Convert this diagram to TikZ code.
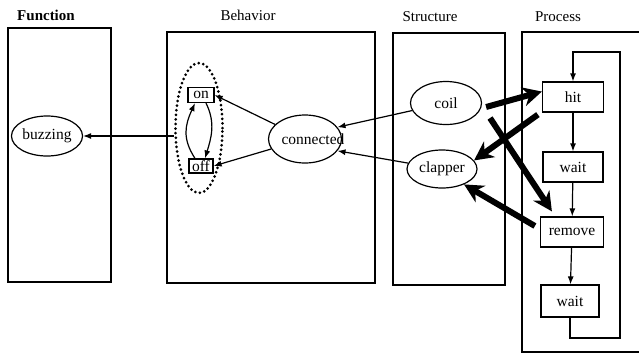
\documentclass[tikz,border=0pt]{standalone}
\usepackage{fontspec}
\setmainfont{Liberation Serif}
\usetikzlibrary{shapes.geometric,arrows.meta}
\begin{document}
\begin{tikzpicture}[x=1pt,y=-1pt,
  panel/.style={draw,line width=1.4pt},
  title/.style={font=\fontsize{15}{18}\selectfont},
  ell/.style={draw,ellipse,line width=1.2pt,inner sep=0pt,font=\fontsize{15.5}{18}\selectfont},
  stepbox/.style={draw,rectangle,line width=1.2pt,inner sep=0pt,font=\fontsize{15.5}{18}\selectfont},
  thin/.style={line width=1.2pt,-{Latex[length=8pt,width=6pt]}},
  heavy/.style={line width=6pt,-{Stealth[length=19pt,width=19pt,inset=6pt]}},
  dots/.style={draw,ellipse,line width=3pt,dash pattern=on 0pt off 4.6pt,line cap=round}]
\useasboundingbox (0,0) rectangle (639,354);

% panels
\draw[panel] (8,28) rectangle (111,282);
\draw[panel] (167,32) rectangle (375,283);
\draw[panel] (393,33) rectangle (505,285);
\draw[panel] (641,32) -- (522,32) -- (522,352) -- (641,352);

% panel titles
\node[title,font=\bfseries\fontsize{15}{18}\selectfont] (tfun) at (46,15) {Function};
\node[title] (tbeh) at (248,15) {Behavior};
\node[title] (tstr) at (430,17) {Structure};
\node[title] (tpro) at (558,17) {Process};

% function
\node[ell,minimum width=71pt,minimum height=40pt] (buzz) at (47,136) {buzzing};

% behavior
\node[dots,minimum width=47pt,minimum height=130pt] (dot) at (199,128) {};
\node[stepbox,minimum width=26pt,minimum height=15pt] (on) at (201,95) {on};
\node[stepbox,minimum width=24pt,minimum height=14pt] (off) at (201,166) {off};
\node[ell,minimum width=73pt,minimum height=48pt] (conn) at (305,139) {};
\node[font=\fontsize{15.5}{18}\selectfont,inner sep=0pt] (conntext) at (313,139) {connected};

% structure
\node[ell,minimum width=71pt,minimum height=43pt] (coil) at (446,103) {coil};
\node[ell,minimum width=70pt,minimum height=38pt] (clap) at (442,169) {clapper};

% process
\node[stepbox,minimum width=61pt,minimum height=30pt] (hit) at (573,97) {hit};
\node[stepbox,minimum width=60pt,minimum height=30pt] (wa) at (573,167) {wait};
\node[stepbox,minimum width=63pt,minimum height=30pt] (rem) at (572,232) {remove};
\node[stepbox,minimum width=58pt,minimum height=32pt] (wb) at (570,301) {wait};
\coordinate (lb) at (620,338);
\coordinate (lt) at (620,52);
\coordinate (xs) at (490,118);

% thin connectors
\draw[thin] (dot.west |- buzz.east) -- (buzz.east);
\draw[thin] ([xshift=-6pt]off.north) .. controls +(-13,-20) and +(-10,22) .. ([xshift=-6pt]on.south);
\draw[thin] ([xshift=5pt]on.south) .. controls +(10,20) and +(6,-20) .. ([xshift=4pt]off.north);
\draw[thin] (conn) -- (on.east);
\draw[thin] (conn) -- (off.east);
\draw[thin] (coil) -- (conn.20);
\draw[thin] (clap) -- (conn.-20);
\draw[thin] (hit) -- (wa);
\draw[thin] (wa) -- (rem);
\draw[thin] (rem) -- (wb);
\draw[thin] (wb.south) |- (lb) -- (lt) -| (hit.north);

% heavy connectors
\draw[heavy] ([shift={(4,4)}]coil.east) -- (hit.170);
\draw[heavy] ([shift={(-4,2)}]hit.south west) -- (clap.15);
\draw[heavy] (xs) -- ([shift={(12,-5)}]rem.north west);
\draw[heavy] ([shift={(-5,-6)}]rem.west) -- (clap.-35);
\end{tikzpicture}
\end{document}
